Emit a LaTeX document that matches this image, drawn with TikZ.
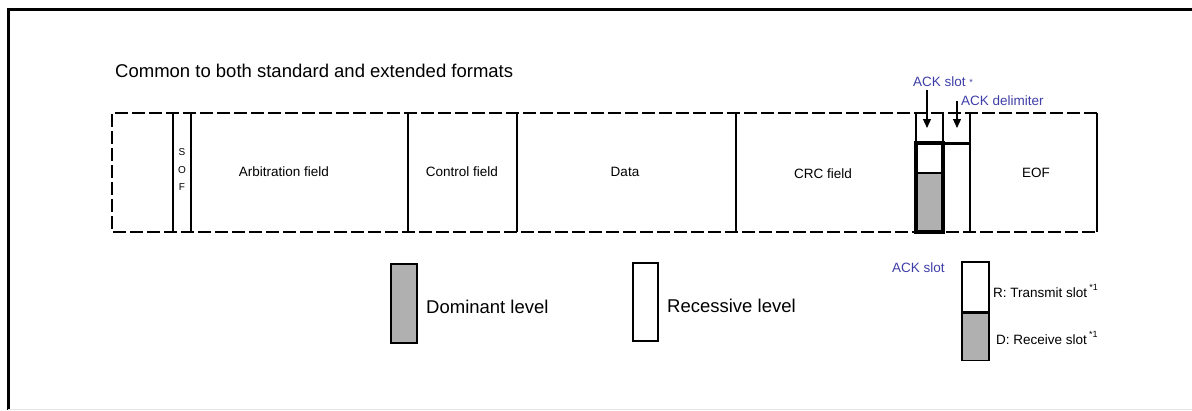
\documentclass[tikz,border=0pt]{standalone}
\usepackage{fontspec}
\setmainfont{Liberation Sans}
\usetikzlibrary{arrows.meta}
\definecolor{ackblue}{RGB}{62,62,168}
\definecolor{domgray}{RGB}{176,176,176}

\begin{document}
\begin{tikzpicture}[x=1pt,y=-1pt,
  thinline/.style={line width=1.4pt},
  dashedge/.style={line width=1.4pt, dash pattern=on 13pt off 4pt},
  heavy/.style={line width=3.4pt},
  fieldlbl/.style={inner sep=0pt, font=\fontsize{13.5}{16}\selectfont},
  legendlbl/.style={inner sep=0pt, font=\fontsize{18.5}{22}\selectfont},
  acklbl/.style={inner sep=0pt, text=ackblue, font=\fontsize{13.5}{16}\selectfont},
  ptr/.style={line width=1.1pt, -{Triangle[width=8pt,length=9pt]}},
  levelbox/.style={draw, line width=1.4pt, inner sep=0pt}
]
\useasboundingbox (0,0) rectangle (1192,410);

% outer frame
\draw[line width=3pt] (8,410) -- (8,9) -- (1192,9);
\draw[black!10, line width=0.8pt] (8,409.4) -- (1192,409.4);

% title
\node[anchor=west, inner sep=0pt, font=\fontsize{18.5}{22}\selectfont] (title) at (115,71)
  {Common to both standard and extended formats};

% frame outline: open (dashed) on three sides, closed after EOF
\draw[dashedge] (1097,113) -- (112,113) -- (112,232) -- (1097,232);
\draw[thinline] (1097,113) -- (1097,232);

% field separators
\foreach \fx in {173,191,408,517,736,943,970}
  \draw[thinline] (\fx,113) -- (\fx,232);
\draw[thinline] (916,113) -- (916,143);

% ACK slot: recessive over dominant, heavy outline
\fill[white] (916,143) rectangle (943,173);
\fill[domgray] (916,173) rectangle (943,232);
\draw[thinline] (916,173) -- (943,173);
\draw[heavy] (916,143) rectangle (943,232);
\draw[line width=3pt] (943,143) -- (970,143);

% field labels
\node[inner sep=0pt, align=center, font=\fontsize{10}{17.5}\selectfont] (sof) at (182,170) {S\\O\\F};
\node[fieldlbl] (arb) at (284,172) {Arbitration field};
\node[fieldlbl] (ctrl) at (462,172) {Control field};
\node[fieldlbl] (data) at (625,172) {Data};
\node[fieldlbl] (crc) at (823,174) {CRC field};
\node[fieldlbl] (eof) at (1036,173) {EOF};

% ACK pointers
\node[acklbl, anchor=west] (ackslot) at (913,82) {ACK slot \raisebox{1pt}{\fontsize{9}{10}\selectfont *}};
\node[acklbl, anchor=west] (ackdelim) at (961,101) {ACK delimiter};
\coordinate (slottip) at (927,128);
\coordinate (delimtip) at (957,128);
\draw[ptr] (ackslot.south -| slottip) ++(0,3) -- (slottip);
\draw[ptr] (ackdelim.west -| delimtip) -- (delimtip);

% level legend
\node[levelbox, fill=domgray, minimum width=26pt, minimum height=79pt] (domkey) at (404,303.5) {};
\node[legendlbl, anchor=west] (domtxt) at (426,307) {Dominant level};
\node[levelbox, fill=white, minimum width=25pt, minimum height=78pt] (reckey) at (645.5,302) {};
\node[legendlbl, anchor=west] (rectxt) at (667,306) {Recessive level};

% ACK slot legend
\node[acklbl, anchor=west] (acklegend) at (892,268) {ACK slot};
\node[levelbox, fill=white, minimum width=27pt, minimum height=50pt] (rslot) at (975.5,287) {};
\node[levelbox, fill=domgray, minimum width=27pt, minimum height=47pt, anchor=north] (dslot) at (rslot.south) {};
\node[fieldlbl, anchor=west] (rtxt) at (993,291) {R: Transmit slot\,\raisebox{7pt}{\fontsize{9}{10}\selectfont *1}};
\node[fieldlbl, anchor=west] (dtxt) at (996,338) {D: Receive slot\,\raisebox{7pt}{\fontsize{9}{10}\selectfont *1}};
\end{tikzpicture}
\end{document}
